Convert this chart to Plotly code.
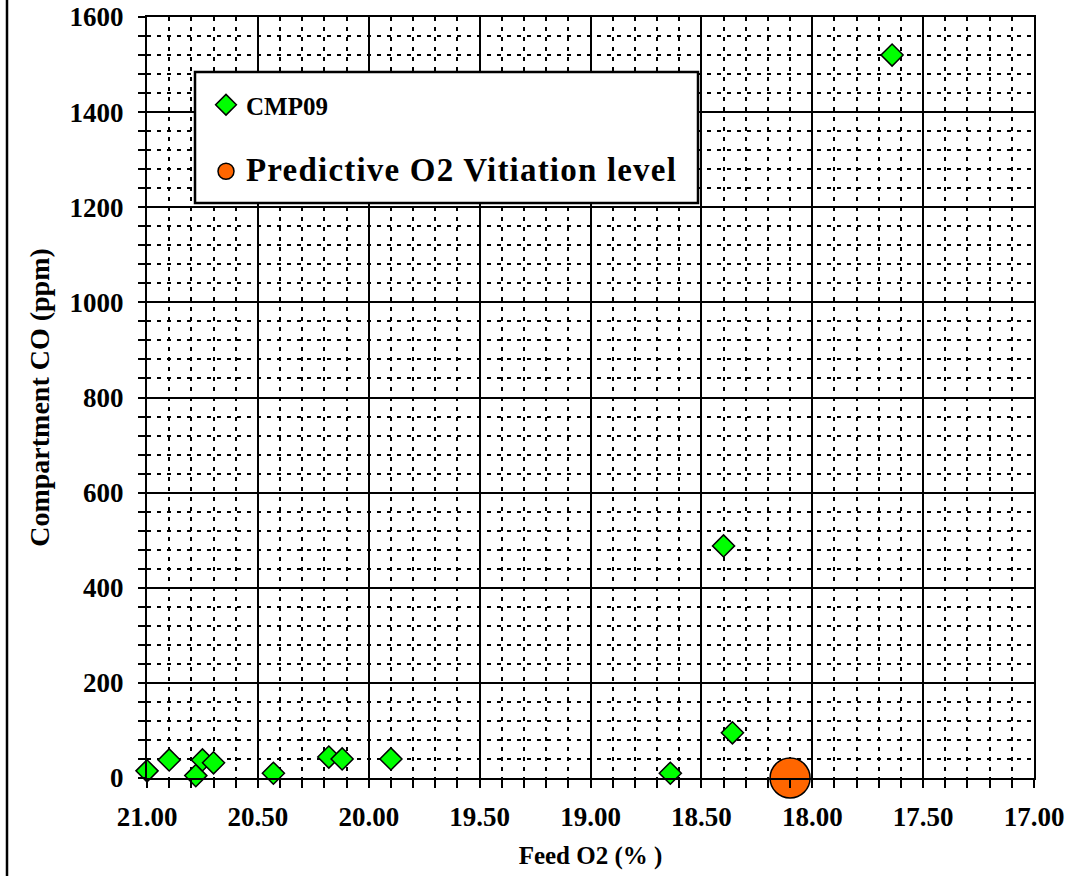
import plotly.graph_objects as go

# Data
feed_o2 = [21.00, 20.90, 20.78, 20.75, 20.70, 20.43, 20.18, 20.12, 19.90, 18.64, 18.36, 18.40, 17.64]
comp_co = [15, 38, 5, 38, 32, 10, 44, 40, 40, 10, 95, 488, 1520]

vitiation_o2 = [18.10]
vitiation_co = [0]

series_name = "CMP09"
vitiation_name = "Predictive O2 Vitiation level"

x_ticks = [21.0, 20.5, 20.0, 19.5, 19.0, 18.5, 18.0, 17.5, 17.0]
y_ticks = [0, 200, 400, 600, 800, 1000, 1200, 1400, 1600]

FONT = "Liberation Serif"
W, H = 1074, 876
ML, MR, MT, MB = 147, 40, 17, 98
PW, PH = W - ML - MR, H - MT - MB

def px_x(p):
    return (p - ML) / PW

def px_y(p):
    return 1 - (p - MT) / PH

fig = go.Figure()
fig.add_trace(go.Scatter(
    x=feed_o2, y=comp_co, mode="markers", name=series_name,
    legendgroup="a",
    marker=dict(symbol="diamond", size=17, color="#00FF00",
                line=dict(color="black", width=1.5)),
    cliponaxis=False,
))
fig.add_trace(go.Scatter(
    x=vitiation_o2, y=vitiation_co, mode="markers",
    name='<span style="font-size:33px;letter-spacing:1.2px">' + vitiation_name + '</span>',
    legendgroup="b",
    marker=dict(symbol="circle", size=40, color="#FF6600",
                line=dict(color="black", width=1.5)),
    cliponaxis=False,
))

grid_major = dict(showgrid=True, gridcolor="black", gridwidth=2)
fig.update_xaxes(
    range=[21, 17], tickvals=x_ticks, tickformat=".2f",
    showline=True, linecolor="black", linewidth=2, mirror=True,
    ticks="outside", ticklen=8, tickwidth=2, tickcolor="black",
    ticklabelstandoff=6, automargin=False,
    tickfont=dict(family=FONT, size=27, color="black", weight="bold"),
    title=dict(text="Feed O2 (% )", standoff=15,
               font=dict(family=FONT, size=25, color="black", weight="bold")),
    minor=dict(dtick=0.1, showgrid=True, gridcolor="black", gridwidth=1.5,
               griddash="4px,6px", ticks="outside", ticklen=8,
               tickwidth=1.5, tickcolor="black"),
    zeroline=False, **grid_major,
)
fig.update_yaxes(
    range=[0, 1600], tickvals=y_ticks,
    showline=True, linecolor="black", linewidth=2, mirror=True,
    ticks="outside", ticklen=7, tickwidth=2, tickcolor="black",
    ticklabelstandoff=9, automargin=False,
    tickfont=dict(family=FONT, size=27, color="black", weight="bold"),
    title=dict(text="Compartment CO (ppm)", standoff=12,
               font=dict(family=FONT, size=28, color="black", weight="bold")),
    minor=dict(dtick=40, showgrid=True, gridcolor="black", gridwidth=1.5,
               griddash="4px,6px", ticks="outside", ticklen=7,
               tickwidth=1.5, tickcolor="black"),
    zeroline=False, **grid_major,
)

# Legend box
fig.add_shape(type="rect", xref="paper", yref="paper",
              x0=px_x(195), x1=px_x(698), y0=px_y(203), y1=px_y(72),
              fillcolor="white", line=dict(color="black", width=2.5),
              layer="above")
# Left frame line
fig.add_shape(type="line", xref="paper", yref="paper",
              x0=px_x(7), x1=px_x(7), y0=px_y(H), y1=px_y(0),
              line=dict(color="black", width=2.5))

fig.update_layout(
    width=W, height=H,
    margin=dict(l=ML, r=MR, t=MT, b=MB, autoexpand=False),
    paper_bgcolor="white", plot_bgcolor="white",
    font=dict(family=FONT, color="black"),
    legend=dict(x=px_x(202), y=px_y(82), xanchor="left", yanchor="top",
                bgcolor="rgba(0,0,0,0)", borderwidth=0,
                tracegroupgap=31, indentation=4,
                font=dict(family=FONT, size=25, color="black", weight="bold")),
    showlegend=True,
)

fig.write_html("out.html")
